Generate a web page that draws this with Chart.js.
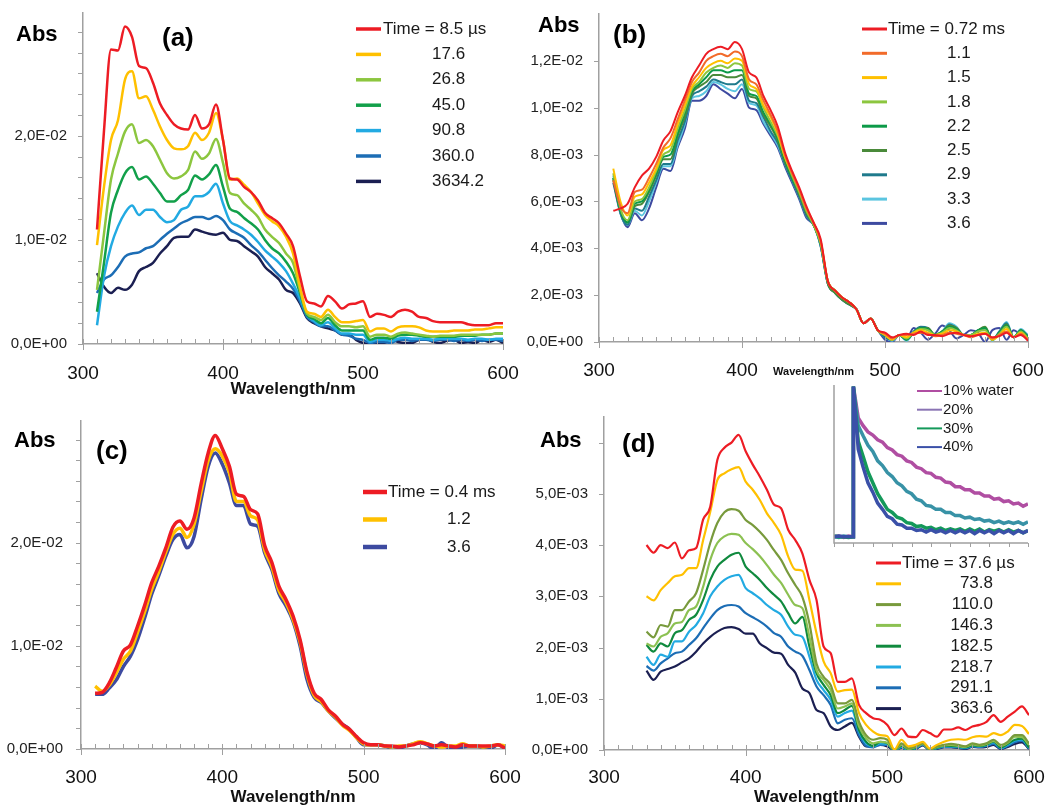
<!DOCTYPE html>
<html>
<head>
<meta charset="utf-8">
<script src="https://cdn.jsdelivr.net/npm/chart.js@4.4.0/dist/chart.umd.min.js"></script>
<style>
body { margin: 0; background: #fff; width: 1051px; height: 806px; overflow: hidden; position: relative; font-family: 'Liberation Sans', Arial, sans-serif; }
canvas { position: absolute; }
.tag { position: absolute; font-weight: bold; color: #000; line-height: 1; white-space: nowrap; }
.abs { font-size: 22px; }
.panel { font-size: 26px; }
</style>
</head>
<body>
<canvas id="chart-a" width="525" height="400" style="left:0;top:0"></canvas>
<canvas id="chart-b" width="526" height="400" style="left:525px;top:0"></canvas>
<canvas id="chart-c" width="525" height="406" style="left:0;top:400px"></canvas>
<canvas id="chart-d" width="526" height="406" style="left:525px;top:400px"></canvas>
<canvas id="chart-inset" width="231" height="170" style="left:820px;top:378px"></canvas>

<div class="tag abs" style="left:16px;top:23px">Abs</div>
<div class="tag panel" style="left:162px;top:24px">(a)</div>
<div class="tag abs" style="left:538px;top:14px">Abs</div>
<div class="tag panel" style="left:613px;top:21px">(b)</div>
<div class="tag abs" style="left:14px;top:429px">Abs</div>
<div class="tag panel" style="left:96px;top:437px">(c)</div>
<div class="tag abs" style="left:540px;top:429px">Abs</div>
<div class="tag panel" style="left:622px;top:430px">(d)</div>

<script>
// wavelengths (nm)
const wavelengths = [310, 315, 320, 325, 330, 335, 340, 345, 350, 355,
    360, 365, 370, 375, 380, 385, 390, 395, 400, 405,
    410, 415, 420, 425, 430, 435, 440, 445, 450, 455,
    460, 465, 470, 475, 480, 485, 490, 495, 500, 505,
    510, 515, 520, 525, 530, 535, 540, 545, 550, 555,
    560, 565, 570, 575, 580, 585, 590, 595, 600];
const wavelengthsD = [330, 335, 340, 345, 350, 355, 360, 365, 370, 375,
    380, 385, 390, 395, 400, 405, 410, 415, 420, 425,
    430, 435, 440, 445, 450, 455, 460, 465, 470, 475,
    480, 485, 490, 495, 500, 505, 510, 515, 520, 525,
    530, 535, 540, 545, 550, 555, 560, 565, 570, 575,
    580, 585, 590, 595, 600];

// absorbance values in units of 1E-03
// panel (a)
const labelsA = ['Time = 8.5 \u00b5s', '17.6', '26.8', '45.0', '90.8', '360.0', '3634.2'];
const a_8_5 = [11.0, 20.5, 28.3, 28.2, 30.5, 29.5, 26.7, 26.5, 25.1, 23.1,
    22.0, 21.1, 20.7, 20.6, 22.0, 20.7, 21.1, 23.0, 19.6, 15.9,
    15.8, 15.1, 14.6, 13.8, 12.6, 12.1, 11.6, 10.6, 9.4, 6.5,
    4.1, 3.9, 3.6, 4.6, 4.1, 3.4, 3.8, 3.9, 4.1, 2.6,
    2.9, 2.8, 2.6, 3.1, 3.3, 3.1, 2.6, 2.5, 2.2, 2.1,
    2.1, 2.1, 2.1, 1.9, 1.8, 1.8, 1.8, 2.0, 2.0];
const a_17_6 = [9.5, 15.1, 19.6, 21.5, 25.4, 26.2, 23.6, 23.8, 22.5, 20.9,
    19.6, 18.8, 18.7, 19.0, 20.3, 19.6, 20.3, 22.2, 19.6, 15.8,
    15.9, 15.3, 14.6, 13.5, 12.4, 11.8, 11.3, 10.3, 8.7, 5.5,
    3.1, 2.9, 2.6, 3.3, 2.6, 2.1, 2.1, 2.2, 2.3, 1.2,
    1.5, 1.5, 1.2, 1.6, 1.7, 1.7, 1.6, 1.3, 1.2, 1.2,
    1.2, 1.3, 1.3, 1.3, 1.4, 1.4, 1.5, 1.6, 1.6];
const a_26_8 = [5.2, 10.6, 15.8, 18.3, 20.4, 21.1, 19.3, 19.6, 19.0, 17.7,
    16.4, 15.9, 16.1, 16.7, 18.5, 17.8, 18.3, 19.7, 17.4, 14.5,
    14.3, 13.5, 12.9, 12.2, 11.0, 10.3, 9.7, 8.7, 7.8, 5.2,
    2.9, 2.6, 2.3, 2.8, 2.1, 1.7, 1.7, 1.6, 1.7, 0.7,
    0.9, 0.9, 0.7, 1.0, 1.1, 1.0, 0.9, 0.8, 0.7, 0.8,
    0.8, 0.8, 0.9, 0.9, 0.9, 0.9, 0.9, 1.0, 1.0];
const a_45_0 = [3.1, 7.8, 12.6, 14.8, 16.4, 17.0, 15.8, 16.1, 15.4, 14.5,
    13.7, 13.7, 14.3, 14.8, 16.2, 15.8, 16.3, 17.2, 15.1, 13.0,
    12.7, 12.1, 11.6, 11.0, 10.0, 9.2, 8.7, 7.9, 6.8, 4.9,
    2.8, 2.4, 2.0, 2.5, 1.8, 1.3, 1.3, 1.3, 1.3, 0.4,
    0.6, 0.6, 0.5, 0.8, 0.9, 0.9, 0.8, 0.7, 0.7, 0.7,
    0.7, 0.7, 0.8, 0.8, 0.8, 0.9, 0.9, 1.0, 1.0];
const a_90_8 = [1.8, 6.5, 9.4, 11.3, 12.6, 13.3, 12.4, 12.9, 12.9, 12.2,
    11.7, 11.9, 12.9, 13.2, 14.2, 14.2, 14.6, 15.4, 13.5, 11.8,
    11.4, 11.0, 10.5, 9.8, 9.0, 8.4, 7.8, 7.0, 5.8, 4.4,
    2.8, 2.2, 1.8, 2.1, 1.5, 1.0, 1.0, 0.9, 0.9, 0.2,
    0.4, 0.4, 0.3, 0.5, 0.6, 0.5, 0.5, 0.5, 0.4, 0.5,
    0.5, 0.5, 0.5, 0.4, 0.5, 0.5, 0.4, 0.5, 0.5];
const a_360_0 = [4.9, 6.2, 6.6, 7.4, 8.4, 8.7, 8.8, 9.2, 9.4, 10.0,
    10.6, 11.1, 11.6, 11.9, 12.2, 12.2, 12.0, 12.3, 11.9, 11.0,
    10.6, 10.2, 9.5, 8.9, 8.1, 7.3, 6.6, 6.0, 5.3, 4.1,
    2.6, 2.1, 1.7, 1.7, 1.3, 0.9, 0.8, 0.5, 0.4, 0.1,
    0.2, 0.2, 0.1, 0.4, 0.4, 0.3, 0.4, 0.4, 0.3, 0.4,
    0.4, 0.3, 0.4, 0.3, 0.4, 0.3, 0.4, 0.4, 0.3];
const a_3634_2 = [6.8, 5.5, 4.9, 5.4, 5.2, 5.7, 7.0, 7.4, 7.8, 8.7,
    9.4, 10.2, 10.3, 10.3, 11.0, 10.8, 10.6, 10.5, 10.7, 10.0,
    9.9, 9.4, 8.9, 8.4, 7.4, 6.8, 6.2, 5.2, 4.9, 3.9,
    2.5, 2.0, 1.7, 1.5, 1.3, 0.9, 0.9, 0.4, 0.1, 0.0,
    0.1, 0.1, 0.4, 0.2, 0.1, 0.1, 0.4, 0.5, 0.2, 0.1,
    0.3, 0.4, 0.1, 0.2, 0.1, 0.4, 0.2, 0.4, 0.1];

// panel (b)
const labelsB = ['Time = 0.72 ms', '1.1', '1.5', '1.8', '2.2', '2.5', '2.9', '3.3', '3.6'];
const b_0_72 = [5.6, 5.7, 5.9, 6.6, 7.1, 7.4, 7.9, 8.6, 9.0, 9.8,
    10.5, 11.3, 11.8, 12.3, 12.5, 12.6, 12.5, 12.8, 12.5, 11.5,
    11.3, 10.5, 9.9, 9.2, 8.1, 7.3, 6.6, 5.8, 5.1, 4.4,
    2.6, 2.2, 1.9, 1.7, 1.4, 0.8, 1.0, 0.5, 0.4, 0.2,
    0.3, 0.35, 0.3, 0.45, 0.3, 0.3, 0.25, 0.35, 0.4, 0.3,
    0.25, 0.3, 0.35, 0.2, 0.25, 0.4, 0.2, 0.3, 0.05];
const b_1_1 = [6.9, 5.8, 5.5, 6.4, 6.5, 7.0, 7.6, 8.3, 8.7, 9.5,
    10.3, 11.1, 11.5, 12.0, 12.2, 12.3, 12.2, 12.4, 12.2, 11.2,
    11.0, 10.3, 9.7, 9.0, 8.0, 7.2, 6.5, 5.7, 5.1, 4.3,
    2.6, 2.2, 1.9, 1.7, 1.4, 0.8, 1.0, 0.5, 0.35, 0.15,
    0.3, 0.3, 0.35, 0.4, 0.35, 0.25, 0.3, 0.4, 0.35, 0.3,
    0.2, 0.3, 0.35, 0.15, 0.3, 0.45, 0.2, 0.35, 0.1];
const b_1_5 = [7.4, 6.0, 5.4, 6.2, 6.3, 6.8, 7.4, 8.2, 8.4, 9.3,
    10.1, 10.9, 11.3, 11.7, 11.9, 12.0, 11.9, 12.1, 12.0, 11.0,
    10.8, 10.1, 9.6, 8.9, 7.9, 7.2, 6.5, 5.7, 5.1, 4.3,
    2.6, 2.2, 1.9, 1.7, 1.4, 0.8, 1.0, 0.5, 0.3, 0.1,
    0.3, 0.2, 0.4, 0.5, 0.4, 0.3, 0.35, 0.5, 0.45, 0.3,
    0.25, 0.35, 0.4, 0.1, 0.3, 0.55, 0.2, 0.4, 0.1];
const b_1_8 = [7.2, 5.7, 5.2, 6.0, 6.1, 6.6, 7.3, 8.0, 8.2, 9.1,
    9.9, 10.8, 11.1, 11.5, 11.7, 11.8, 11.7, 11.9, 11.8, 10.8,
    10.7, 10.0, 9.4, 8.8, 7.9, 7.1, 6.4, 5.6, 5.0, 4.2,
    2.6, 2.2, 1.9, 1.7, 1.4, 0.8, 1.0, 0.5, 0.3, 0.1,
    0.3, 0.15, 0.4, 0.55, 0.5, 0.3, 0.4, 0.6, 0.5, 0.3,
    0.3, 0.45, 0.5, 0.1, 0.35, 0.65, 0.2, 0.45, 0.15];
const b_2_2 = [7.0, 5.6, 5.1, 5.9, 6.0, 6.5, 7.2, 7.9, 8.0, 8.9,
    9.8, 10.7, 11.0, 11.3, 11.6, 11.6, 11.5, 11.6, 11.6, 10.6,
    10.5, 9.8, 9.3, 8.7, 7.8, 7.0, 6.4, 5.6, 5.0, 4.2,
    2.6, 2.2, 1.9, 1.7, 1.4, 0.8, 1.0, 0.5, 0.3, 0.1,
    0.3, 0.1, 0.4, 0.6, 0.55, 0.3, 0.45, 0.65, 0.55, 0.3,
    0.3, 0.5, 0.6, 0.1, 0.4, 0.7, 0.2, 0.5, 0.2];
const b_2_5 = [6.9, 5.6, 5.1, 5.8, 5.9, 6.4, 7.1, 7.8, 7.8, 8.8,
    9.6, 10.6, 10.9, 11.1, 11.4, 11.4, 11.3, 11.3, 11.4, 10.5,
    10.4, 9.7, 9.2, 8.6, 7.7, 7.0, 6.3, 5.5, 5.0, 4.2,
    2.5, 2.1, 1.8, 1.6, 1.4, 0.8, 1.0, 0.5, 0.3, 0.1,
    0.3, 0.1, 0.4, 0.6, 0.6, 0.3, 0.45, 0.7, 0.6, 0.3,
    0.3, 0.5, 0.65, 0.1, 0.4, 0.75, 0.2, 0.5, 0.2];
const b_2_9 = [7.0, 5.5, 5.0, 5.7, 5.6, 6.2, 6.9, 7.6, 7.6, 8.6,
    9.4, 10.5, 10.7, 10.9, 11.2, 11.1, 11.0, 11.0, 11.2, 10.3,
    10.2, 9.6, 9.0, 8.5, 7.6, 6.9, 6.2, 5.4, 5.0, 4.1,
    2.5, 2.1, 1.8, 1.6, 1.4, 0.8, 1.0, 0.5, 0.2, 0.1,
    0.3, 0.1, 0.45, 0.65, 0.6, 0.3, 0.4, 0.75, 0.6, 0.3,
    0.3, 0.5, 0.6, 0.1, 0.45, 0.8, 0.2, 0.5, 0.25];
const b_3_3 = [7.1, 5.5, 5.0, 5.6, 5.4, 6.0, 6.8, 7.5, 7.5, 8.4,
    9.3, 10.4, 10.5, 10.7, 11.1, 11.0, 10.8, 10.7, 11.0, 10.2,
    10.1, 9.4, 8.9, 8.4, 7.6, 6.9, 6.2, 5.4, 5.0, 4.1,
    2.5, 2.1, 1.8, 1.6, 1.4, 0.8, 1.0, 0.5, 0.2, 0.05,
    0.3, 0.05, 0.4, 0.6, 0.55, 0.3, 0.45, 0.8, 0.65, 0.3,
    0.3, 0.5, 0.55, 0.05, 0.45, 0.85, 0.2, 0.55, 0.3];
const b_3_6 = [6.8, 5.5, 4.9, 5.5, 5.2, 5.7, 6.6, 7.4, 7.3, 8.3,
    9.1, 10.3, 10.3, 10.5, 11.0, 10.8, 10.6, 10.4, 10.8, 10.0,
    9.9, 9.3, 8.8, 8.3, 7.5, 6.8, 6.1, 5.3, 5.0, 4.1,
    2.5, 2.1, 1.8, 1.6, 1.4, 0.8, 1.0, 0.5, 0.1, 0.0,
    0.3, 0.1, 0.6, 0.4, 0.1, 0.35, 0.7, 0.5, 0.15, 0.3,
    0.5, 0.4, 0.0, 0.5, 0.6, 0.1, 0.5, 0.3, 0.2];

// panel (c)
const labelsC = ['Time = 0.4 ms', '1.2', '3.6'];
const c_0_4 = [5.4, 5.5, 6.4, 7.9, 9.5, 10.1, 11.9, 13.9, 16.1, 17.7,
    19.5, 21.5, 22.1, 21.3, 22.4, 25.7, 28.7, 30.4, 29.1, 27.4,
    24.7, 24.5, 23.2, 22.8, 19.7, 18.1, 15.8, 14.5, 12.9, 10.6,
    7.4, 5.4, 4.8, 3.8, 3.2, 2.4, 1.9, 1.2, 0.6, 0.4,
    0.4, 0.3, 0.3, 0.2, 0.3, 0.4, 0.6, 0.5, 0.3, 0.4,
    0.3, 0.2, 0.4, 0.3, 0.3, 0.3, 0.3, 0.4, 0.1];
const c_1_2 = [6.1, 5.6, 6.2, 7.4, 8.7, 9.5, 11.3, 13.3, 15.5, 17.2,
    19.1, 20.8, 21.4, 20.5, 21.8, 25.0, 28.0, 29.1, 28.4, 26.8,
    24.0, 24.0, 22.6, 22.2, 19.3, 17.7, 15.4, 14.2, 12.6, 10.4,
    7.2, 5.2, 4.6, 3.7, 3.1, 2.3, 1.8, 1.1, 0.5, 0.4,
    0.4, 0.3, 0.2, 0.3, 0.3, 0.5, 0.7, 0.5, 0.3, 0.2,
    0.3, 0.3, 0.5, 0.3, 0.3, 0.2, 0.3, 0.4, 0.3];
const c_3_6 = [5.3, 5.3, 5.9, 6.7, 8.0, 9.0, 10.6, 12.7, 15.0, 16.8,
    18.7, 20.3, 20.8, 19.5, 20.6, 24.2, 27.4, 28.7, 27.6, 25.8,
    23.6, 23.6, 21.8, 21.6, 19.0, 17.4, 15.1, 13.9, 12.4, 10.0,
    6.7, 5.0, 4.5, 3.7, 3.0, 2.4, 1.9, 1.1, 0.4, 0.4,
    0.4, 0.3, 0.1, 0.1, 0.3, 0.5, 0.6, 0.4, 0.0, 0.6,
    0.1, 0.0, 0.2, 0.3, 0.3, 0.1, 0.1, 0.4, 0.1];

// panel (d)
const labelsD = ['Time = 37.6 \u00b5s', '73.8', '110.0', '146.3', '182.5', '218.7', '291.1', '363.6'];
const d_37_6 = [4.0, 3.85, 4.0, 3.94, 4.05, 3.74, 3.9, 3.94, 4.5, 4.75,
    5.66, 5.9, 6.0, 6.15, 5.83, 5.57, 5.34, 5.08, 4.79, 4.72,
    4.3, 4.1, 3.84, 3.32, 2.93, 2.02, 1.89, 1.33, 1.33, 1.4,
    0.88, 0.72, 0.62, 0.59, 0.49, 0.29, 0.42, 0.26, 0.25, 0.39,
    0.33, 0.26, 0.4, 0.4, 0.44, 0.39, 0.46, 0.49, 0.55, 0.68,
    0.55, 0.65, 0.75, 0.85, 0.68];
const d_73_8 = [3.0, 2.92, 3.12, 3.26, 3.39, 3.42, 3.55, 3.55, 4.1, 4.65,
    5.27, 5.4, 5.48, 5.52, 5.24, 5.08, 4.88, 4.62, 4.43, 4.2,
    3.78, 3.52, 3.5, 2.93, 2.28, 1.73, 1.5, 1.14, 1.17, 1.18,
    0.72, 0.49, 0.36, 0.29, 0.27, 0.01, 0.2, 0.07, 0.1, 0.16,
    0.03, 0.1, 0.16, 0.2, 0.21, 0.2, 0.25, 0.27, 0.26, 0.33,
    0.29, 0.36, 0.49, 0.47, 0.31];
const d_110_0 = [2.31, 2.2, 2.44, 2.41, 2.73, 2.73, 2.9, 3.06, 3.52, 4.04,
    4.43, 4.64, 4.7, 4.67, 4.49, 4.39, 4.26, 4.1, 3.9, 3.71,
    3.45, 3.22, 2.99, 2.47, 1.69, 1.43, 1.27, 0.91, 0.91, 0.98,
    0.55, 0.29, 0.2, 0.23, 0.2, 0.0, 0.13, 0.03, 0.07, 0.13,
    0.01, 0.07, 0.1, 0.12, 0.1, 0.07, 0.13, 0.1, 0.13, 0.2,
    0.1, 0.16, 0.29, 0.29, 0.13];
const d_146_3 = [2.08, 2.02, 2.21, 2.28, 2.47, 2.5, 2.73, 2.8, 3.19, 3.71,
    4.04, 4.17, 4.22, 4.2, 4.04, 3.92, 3.78, 3.61, 3.42, 3.26,
    3.03, 2.83, 2.77, 2.21, 1.56, 1.37, 1.17, 0.81, 0.85, 0.91,
    0.46, 0.23, 0.13, 0.16, 0.14, 0.0, 0.1, 0.02, 0.06, 0.12,
    0.01, 0.06, 0.09, 0.1, 0.08, 0.06, 0.11, 0.09, 0.12, 0.18,
    0.08, 0.14, 0.26, 0.25, 0.1];
const d_182_5 = [2.05, 1.92, 2.08, 2.02, 2.28, 2.34, 2.54, 2.64, 2.93, 3.32,
    3.58, 3.71, 3.81, 3.85, 3.58, 3.45, 3.32, 3.16, 3.03, 2.9,
    2.67, 2.47, 2.6, 2.02, 1.5, 1.27, 1.07, 0.72, 0.78, 0.86,
    0.39, 0.16, 0.08, 0.16, 0.13, 0.0, 0.08, 0.01, 0.05, 0.15,
    0.0, 0.05, 0.08, 0.08, 0.07, 0.05, 0.09, 0.08, 0.1, 0.17,
    0.05, 0.12, 0.2, 0.22, 0.05];
const d_218_7 = [1.82, 1.66, 1.86, 1.82, 2.12, 2.12, 2.31, 2.44, 2.67, 3.0,
    3.19, 3.32, 3.39, 3.42, 3.16, 3.06, 2.96, 2.83, 2.73, 2.64,
    2.41, 2.25, 2.21, 1.82, 1.37, 1.17, 0.98, 0.65, 0.72, 0.77,
    0.36, 0.13, 0.07, 0.13, 0.12, 0.0, 0.06, 0.0, 0.04, 0.12,
    0.0, 0.04, 0.07, 0.07, 0.06, 0.04, 0.08, 0.07, 0.09, 0.15,
    0.04, 0.1, 0.18, 0.2, 0.04];
const d_291_1 = [1.64, 1.55, 1.69, 1.79, 1.89, 1.92, 2.05, 2.18, 2.38, 2.57,
    2.73, 2.81, 2.83, 2.8, 2.67, 2.59, 2.51, 2.41, 2.28, 2.21,
    2.02, 1.92, 1.84, 1.56, 1.24, 1.07, 0.88, 0.52, 0.59, 0.62,
    0.29, 0.08, 0.05, 0.1, 0.1, 0.0, 0.05, 0.0, 0.03, 0.1,
    0.0, 0.03, 0.06, 0.06, 0.05, 0.03, 0.07, 0.06, 0.08, 0.12,
    0.03, 0.08, 0.15, 0.18, 0.03];
const d_363_6 = [1.55, 1.37, 1.53, 1.58, 1.63, 1.71, 1.79, 1.92, 2.08, 2.21,
    2.31, 2.38, 2.4, 2.36, 2.27, 2.27, 2.08, 1.99, 1.9, 1.88,
    1.66, 1.51, 1.2, 1.11, 0.78, 0.72, 0.46, 0.39, 0.46, 0.53,
    0.26, 0.07, 0.08, 0.1, 0.07, 0.0, 0.04, 0.0, 0.02, 0.09,
    0.0, 0.02, 0.05, 0.05, 0.04, 0.02, 0.06, 0.05, 0.06, 0.1,
    0.02, 0.06, 0.12, 0.15, 0.02];

// inset of (d): normalised decay traces, time in arbitrary units
const insetLabels = ['10% water', '20%', '30%', '40%'];
const insetTime = [0, 0.25, 0.5, 0.75, 0.98, 1,
    1.25, 1.5, 1.75, 2, 2.25, 2.5, 2.75, 3, 3.25, 3.5, 3.75, 4,
    4.25, 4.5, 4.75, 5, 5.25, 5.5, 5.75, 6, 6.25, 6.5, 6.75, 7,
    7.25, 7.5, 7.75, 8, 8.25, 8.5, 8.75, 9, 9.25, 9.5, 9.75, 10];
const water10 = [0.04, 0.045, 0.035, 0.045, 0.04, 1.0,
    0.80, 0.75, 0.71, 0.69, 0.66, 0.645, 0.61, 0.595, 0.565, 0.555, 0.525, 0.515,
    0.485, 0.475, 0.45, 0.445, 0.42, 0.415, 0.39, 0.385, 0.36, 0.36, 0.34, 0.34,
    0.32, 0.32, 0.30, 0.30, 0.28, 0.285, 0.265, 0.27, 0.25, 0.255, 0.235, 0.25];
const water20 = [0.04, 0.035, 0.045, 0.04, 0.04, 1.0,
    0.75, 0.685, 0.625, 0.585, 0.525, 0.495, 0.45, 0.425, 0.385, 0.365, 0.33, 0.315,
    0.28, 0.27, 0.24, 0.235, 0.215, 0.215, 0.195, 0.195, 0.175, 0.175, 0.16, 0.165,
    0.15, 0.155, 0.14, 0.145, 0.13, 0.14, 0.125, 0.135, 0.125, 0.135, 0.12, 0.135];
const water30 = [0.045, 0.04, 0.04, 0.035, 0.04, 1.0,
    0.65, 0.555, 0.455, 0.385, 0.315, 0.265, 0.215, 0.195, 0.165, 0.155, 0.13, 0.125,
    0.105, 0.11, 0.095, 0.1, 0.085, 0.095, 0.08, 0.09, 0.08, 0.09, 0.075, 0.09,
    0.075, 0.09, 0.07, 0.085, 0.075, 0.085, 0.07, 0.085, 0.07, 0.08, 0.065, 0.08];
const water40 = [0.04, 0.045, 0.04, 0.04, 0.04, 1.0,
    0.6, 0.485, 0.385, 0.325, 0.255, 0.215, 0.17, 0.155, 0.12, 0.115, 0.095, 0.095,
    0.08, 0.085, 0.07, 0.085, 0.07, 0.08, 0.065, 0.08, 0.065, 0.08, 0.065, 0.08,
    0.06, 0.08, 0.065, 0.08, 0.06, 0.08, 0.065, 0.08, 0.06, 0.08, 0.065, 0.08];

const colorsA = ['#ed1c24', '#ffc000', '#8cc63f', '#12a04a', '#22aae2', '#1c6db5', '#1b1f52'];
const colorsB = ['#ed1c24', '#f26b2a', '#ffc000', '#8cc63f', '#0c9a48', '#4a8a3a', '#1f7a8c', '#5bc5e0', '#3d4aa0'];
const colorsC = ['#ed1c24', '#ffc000', '#3d4aa0'];
const colorsD = ['#ed1c24', '#ffc000', '#789a3c', '#8cc152', '#108a3e', '#22aae2', '#1c6db5', '#1b1f52'];
const colorsInset = ['#b04ea2', '#3892a6', '#14995a', '#3a50a8'];
const insetLegendColors = ['#b04ea2', '#8a74b4', '#14995a', '#3a50a8'];

const axisColor = '#a0a0a0';
const fontFamily = "'Liberation Sans', Arial, sans-serif";
Chart.defaults.font.family = fontFamily;

// 1E-03 units -> "2,0E-02"
function sciLabel(v) {
    const parts = (v * 1e-3).toExponential(1).split('e');
    const n = parseInt(parts[1], 10);
    return parts[0].replace('.', ',') + 'E' + (n < 0 ? '-' : '+') + String(Math.abs(n)).padStart(2, '0');
}

function noEdgePadding(s) {
    s.paddingLeft = 0;
    s.paddingRight = 0;
    s.paddingTop = 0;
    s.paddingBottom = 0;
}

const tickMarks = {
    id: 'tickMarks',
    afterDraw(chart, args, opts) {
        const ctx = chart.ctx;
        const area = chart.chartArea;
        const x = chart.scales.x;
        const y = chart.scales.y;
        ctx.save();
        ctx.strokeStyle = axisColor;
        ctx.lineWidth = 1;
        ctx.beginPath();
        for (let v = 300; v <= 600; v += 10) {
            const px = Math.round(x.getPixelForValue(v)) + 0.5;
            ctx.moveTo(px, area.bottom - 5);
            ctx.lineTo(px, area.bottom + (v % 100 === 0 ? 6 : 0));
        }
        y.ticks.forEach(function(t) {
            const py = Math.round(y.getPixelForValue(t.value)) + 0.5;
            ctx.moveTo(area.left - 5, py);
            ctx.lineTo(area.left, py);
        });
        ctx.stroke();
        ctx.restore();
    }
};

const inlineLegend = {
    id: 'inlineLegend',
    afterDatasetsDraw(chart, args, opts) {
        const ctx = chart.ctx;
        ctx.save();
        ctx.font = opts.fontSize + 'px ' + fontFamily;
        ctx.textBaseline = 'middle';
        chart.data.datasets.forEach(function(ds, i) {
            const y = opts.y0 + i * opts.dy;
            ctx.strokeStyle = ds.legendColor || ds.borderColor;
            ctx.lineWidth = opts.lineWidth;
            ctx.beginPath();
            ctx.moveTo(opts.x1, y);
            ctx.lineTo(opts.x2, y);
            ctx.stroke();
            ctx.fillStyle = '#1a1a1a';
            if (i === 0) {
                ctx.textAlign = 'left';
                ctx.fillText(ds.label, opts.textX, y);
            } else {
                ctx.textAlign = opts.numAlign || 'left';
                ctx.fillText(ds.label, opts.numX, y);
            }
        });
        ctx.restore();
    }
};

function drawSpectra(canvasId, cfg) {
    const ctx = document.getElementById(canvasId).getContext('2d');
    const datasets = cfg.series.map(function(values, i) {
        return {
            label: cfg.labels[i],
            data: values.map(function(v, j) { return { x: cfg.xs[j], y: v }; }),
            borderColor: cfg.colors[i],
            borderWidth: cfg.lineWidth,
            pointRadius: 0,
            fill: false,
            cubicInterpolationMode: 'monotone'
        };
    });
    new Chart(ctx, {
        type: 'line',
        data: { datasets: datasets },
        options: {
            responsive: false,
            animation: false,
            devicePixelRatio: 1,
            layout: { padding: { left: 0, top: cfg.top, right: cfg.right, bottom: 0 } },
            plugins: {
                legend: { display: false },
                tooltip: { enabled: false },
                inlineLegend: cfg.legend
            },
            scales: {
                x: {
                    type: 'linear',
                    min: 300,
                    max: 600,
                    afterFit: function(s) { s.height = cfg.bottom; noEdgePadding(s); },
                    grid: { display: false, drawTicks: false },
                    border: { color: axisColor, width: 1.5 },
                    ticks: { stepSize: 100, autoSkip: false, maxRotation: 0, padding: cfg.xPad, color: '#111', font: { size: 19 } },
                    title: { display: true, text: 'Wavelength/nm', color: '#111', font: cfg.titleFont, padding: { top: 0, bottom: cfg.titlePad } }
                },
                y: {
                    min: 0,
                    max: cfg.yMax,
                    afterFit: function(s) { s.width = cfg.left; noEdgePadding(s); },
                    afterBuildTicks: function(s) { s.ticks = s.ticks.filter(function(t) { return t.value <= cfg.yLastTick + 1e-6; }); },
                    grid: { display: false, drawTicks: false },
                    border: { color: axisColor, width: 1.5 },
                    ticks: {
                        stepSize: cfg.yStep,
                        autoSkip: false,
                        padding: cfg.yPad,
                        color: '#222',
                        font: { size: 15 },
                        callback: function(v) {
                            const onLabel = Math.abs(v / cfg.labelStep - Math.round(v / cfg.labelStep)) < 1e-6;
                            return onLabel && v <= cfg.labelMax + 1e-6 ? sciLabel(v) : '';
                        }
                    }
                }
            }
        },
        plugins: [tickMarks, inlineLegend]
    });
}

drawSpectra('chart-a', {
    xs: wavelengths,
    series: [a_8_5, a_17_6, a_26_8, a_45_0, a_90_8, a_360_0, a_3634_2],
    labels: labelsA, colors: colorsA, lineWidth: 2.5,
    left: 83, right: 22, top: 13, bottom: 56,
    yMax: 31.8, yStep: 2, yLastTick: 30, labelStep: 10, labelMax: 20, yPad: 16,
    xPad: 18, titleFont: { size: 17, weight: 'bold' }, titlePad: 0,
    legend: { x1: 356, x2: 381, textX: 383, numX: 432, y0: 29, dy: 25.4, fontSize: 17, lineWidth: 3.5 }
});

drawSpectra('chart-b', {
    xs: wavelengths,
    series: [b_0_72, b_1_1, b_1_5, b_1_8, b_2_2, b_2_5, b_2_9, b_3_3, b_3_6],
    labels: labelsB, colors: colorsB, lineWidth: 2,
    left: 74, right: 23, top: 14, bottom: 58,
    yMax: 14, yStep: 2, yLastTick: 12, labelStep: 2, labelMax: 12, yPad: 16,
    xPad: 17, titleFont: { size: 11, weight: 'bold' }, titlePad: 21,
    legend: { x1: 337, x2: 362, textX: 363, numX: 422, y0: 29, dy: 24.3, fontSize: 17, lineWidth: 3 }
});

drawSpectra('chart-c', {
    xs: wavelengths,
    series: [c_0_4, c_1_2, c_3_6],
    labels: labelsC, colors: colorsC, lineWidth: 3.5,
    left: 81, right: 20, top: 21, bottom: 57,
    yMax: 31.8, yStep: 2, yLastTick: 30, labelStep: 10, labelMax: 20, yPad: 18,
    xPad: 17, titleFont: { size: 17, weight: 'bold', lineHeight: 1 }, titlePad: 0,
    legend: { x1: 363, x2: 387, textX: 388, numX: 447, y0: 92, dy: 27.5, fontSize: 17, lineWidth: 4.5 }
});

drawSpectra('chart-d', {
    xs: wavelengthsD,
    series: [d_37_6, d_73_8, d_110_0, d_146_3, d_182_5, d_218_7, d_291_1, d_363_6],
    labels: labelsD, colors: colorsD, lineWidth: 2.2,
    left: 79, right: 22, top: 17, bottom: 56,
    yMax: 6.5, yStep: 1, yLastTick: 6, labelStep: 1, labelMax: 5, yPad: 16,
    xPad: 16, titleFont: { size: 17, weight: 'bold', lineHeight: 1 }, titlePad: 0,
    legend: { x1: 351, x2: 376, textX: 377, numX: 468, numAlign: 'right', y0: 163, dy: 20.8, fontSize: 17, lineWidth: 3 }
});

// inset: decay traces
const insetAxes = {
    id: 'insetAxes',
    afterDraw(chart) {
        const ctx = chart.ctx;
        const area = chart.chartArea;
        const x = chart.scales.x;
        ctx.save();
        ctx.strokeStyle = axisColor;
        ctx.lineWidth = 1.5;
        ctx.beginPath();
        ctx.moveTo(area.left, area.top);
        ctx.lineTo(area.left, area.bottom);
        ctx.lineTo(area.right, area.bottom);
        ctx.stroke();
        ctx.lineWidth = 1;
        ctx.beginPath();
        for (let t = 0; t <= 10; t++) {
            const px = Math.round(x.getPixelForValue(t)) + 0.5;
            ctx.moveTo(px, area.bottom);
            ctx.lineTo(px, area.bottom + 4);
        }
        ctx.stroke();
        ctx.restore();
    }
};

const insetCtx = document.getElementById('chart-inset').getContext('2d');
new Chart(insetCtx, {
    type: 'line',
    data: {
        datasets: [water10, water20, water30, water40].map(function(values, i) {
            return {
                label: insetLabels[i],
                data: values.map(function(v, j) { return { x: insetTime[j], y: v }; }),
                borderColor: colorsInset[i],
                legendColor: insetLegendColors[i],
                borderWidth: 3.5,
                pointRadius: 0,
                fill: false,
                tension: 0,
                order: 3 - i
            };
        })
    },
    options: {
        responsive: false,
        animation: false,
        devicePixelRatio: 1,
        layout: { padding: { left: 14, top: 7, right: 23, bottom: 5 } },
        plugins: {
            legend: { display: false },
            tooltip: { enabled: false },
            inlineLegend: { x1: 97, x2: 122, textX: 123, numX: 123, y0: 13, dy: 18.7, fontSize: 15, lineWidth: 2 }
        },
        scales: {
            x: { type: 'linear', min: 0, max: 10, display: false },
            y: { min: 0, max: 1.01, display: false }
        }
    },
    plugins: [insetAxes, inlineLegend]
});
</script>
</body>
</html>
